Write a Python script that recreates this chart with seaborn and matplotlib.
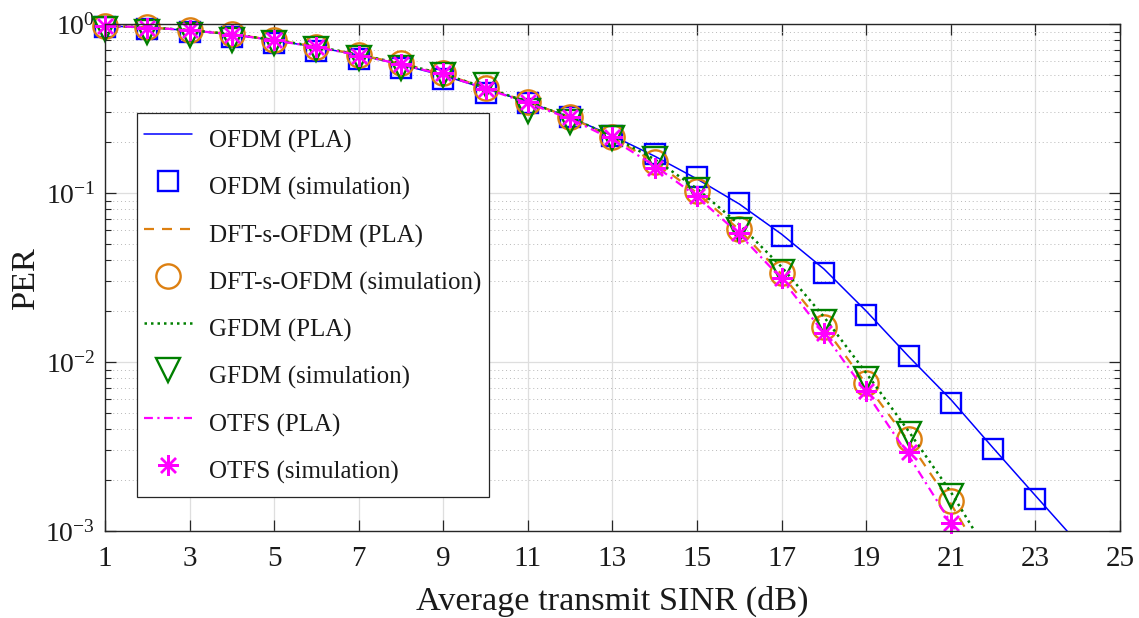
import numpy as np
import pandas as pd
import matplotlib
matplotlib.use("Agg")
import matplotlib.pyplot as plt
import seaborn as sns
from matplotlib.ticker import FixedLocator, LogLocator, NullFormatter, FuncFormatter

# ---------------- data ----------------
snr_pla_ofdm = list(range(1, 25))
ofdm_pla = [0.975, 0.952, 0.915, 0.865, 0.80, 0.73, 0.655, 0.575, 0.495, 0.415,
            0.345, 0.28, 0.218, 0.165, 0.121, 0.086, 0.057, 0.0355, 0.0200, 0.0108,
            0.0060, 0.0031, 0.00162, 0.00085]
snr_sim_ofdm = list(range(1, 24))
ofdm_sim = [0.956, 0.930, 0.893, 0.834, 0.769, 0.692, 0.618, 0.552, 0.471, 0.392,
            0.340, 0.280, 0.217, 0.169, 0.125, 0.0875, 0.0556, 0.0337, 0.0189, 0.0109,
            0.00575, 0.00305, 0.00154]

snr_pla = list(range(1, 23))
snr_sim = list(range(1, 22))
dft_pla = [0.975, 0.955, 0.92, 0.87, 0.805, 0.735, 0.658, 0.583, 0.505, 0.42,
           0.345, 0.28, 0.213, 0.152, 0.100, 0.0605, 0.033, 0.0162, 0.0074, 0.0034,
           0.00145, 0.00055]
dft_sim = [0.973, 0.956, 0.921, 0.869, 0.804, 0.734, 0.656, 0.585, 0.511, 0.416,
           0.347, 0.283, 0.215, 0.153, 0.1025, 0.0614, 0.0334, 0.0160, 0.00748, 0.00352,
           0.00151]
gfdm_pla = [0.975, 0.955, 0.92, 0.87, 0.805, 0.735, 0.658, 0.583, 0.505, 0.42,
            0.345, 0.28, 0.216, 0.158, 0.106, 0.065, 0.0365, 0.0185, 0.0086, 0.0039,
            0.0017, 0.00066]
gfdm_sim = [0.934, 0.901, 0.861, 0.804, 0.769, 0.708, 0.626, 0.547, 0.499, 0.435,
            0.304, 0.264, 0.212, 0.158, 0.104, 0.0606, 0.0339, 0.0172, 0.00797, 0.00374,
            0.00161]
otfs_pla = [0.975, 0.955, 0.918, 0.868, 0.80, 0.73, 0.653, 0.578, 0.50, 0.415,
            0.34, 0.275, 0.207, 0.145, 0.095, 0.057, 0.031, 0.0148, 0.0066, 0.0028,
            0.00112, 0.00042]
otfs_sim = [0.97, 0.95, 0.915, 0.865, 0.80, 0.73, 0.65, 0.58, 0.51, 0.415,
            0.345, 0.28, 0.215, 0.141, 0.0958, 0.0582, 0.0315, 0.0149, 0.00674, 0.00294,
            0.00112]

x_ticks = list(range(1, 26, 2))
y_ticks = [1e-3, 1e-2, 1e-1, 1]

# ---------------- style ----------------
sns.set_style("ticks")
plt.rcParams["font.family"] = ["Liberation Serif", "DejaVu Serif"]
plt.rcParams["mathtext.fontset"] = "custom"
plt.rcParams["mathtext.rm"] = "Liberation Serif"
plt.rcParams["mathtext.it"] = "Liberation Serif:italic"
plt.rcParams["mathtext.bf"] = "Liberation Serif:bold"

BLUE = "#0000FF"
ORANGE = "#DD8011"
GREEN = "#008000"
MAGENTA = "#FF00FF"

fig = plt.figure(figsize=(11.39, 6.18), dpi=100)
ax = fig.add_axes([0.0922, 0.1408, 0.8911, 0.8204])

series = [
    ("OFDM", BLUE, "-", 1.1, "s", 14, snr_pla_ofdm, ofdm_pla, snr_sim_ofdm, ofdm_sim),
    ("DFT-s-OFDM", ORANGE, (0, (4.5, 3.6)), 1.6, "o", 17.5, snr_pla, dft_pla, snr_sim, dft_sim),
    ("GFDM", GREEN, (0, (1, 1.6)), 1.8, "v", 17, snr_pla, gfdm_pla, snr_sim, gfdm_sim),
    ("OTFS", MAGENTA, (0, (4, 2, 1, 2)), 1.6, (8, 2, 0), 15, snr_pla, otfs_pla, snr_sim, otfs_sim),
]

handles, labels = [], []
for name, col, ls, lw, mk, ms, xp, yp, xs, ys in series:
    sns.lineplot(x=xp, y=yp, ax=ax, color=col, linestyle=ls, linewidth=lw, legend=False)
    handles.append(ax.lines[-1]); labels.append(f"{name} (PLA)")
    sns.lineplot(x=xs, y=ys, ax=ax, color=col, linestyle="", marker=mk, markersize=ms,
                 mfc="none", mec=col, mew=1.7, legend=False, clip_on=False)
    handles.append(ax.lines[-1]); labels.append(f"{name} (simulation)")

ax.set_yscale("log")
ax.set_xlim(1, 25)
ax.set_ylim(1e-3, 1)
ax.xaxis.set_major_locator(FixedLocator(x_ticks))
ax.yaxis.set_major_locator(FixedLocator(y_ticks))
ax.yaxis.set_minor_locator(LogLocator(base=10, subs=np.arange(2, 10)))
ax.yaxis.set_minor_formatter(NullFormatter())
ax.yaxis.set_major_formatter(FuncFormatter(lambda v, _: r"$10^{%d}$" % int(round(np.log10(v)))))

ax.tick_params(which="both", direction="in", top=True, right=True, color="0.15",
               labelcolor="0.1")
ax.tick_params(axis="x", which="major", labelsize=21, pad=11)
ax.tick_params(axis="y", which="major", labelsize=20, pad=7)
ax.tick_params(which="major", length=8, width=0.9)
ax.tick_params(which="minor", length=4, width=0.8)

ax.grid(True, which="major", color="0.87", linewidth=0.9, linestyle="-")
ax.grid(True, which="minor", axis="y", color="0.72", linewidth=0.7, linestyle=(0, (1, 3)))
ax.set_axisbelow(True)
for sp in ax.spines.values():
    sp.set_color("0.15")
    sp.set_linewidth(1.0)

ax.set_xlabel("Average transmit SINR (dB)", fontsize=24.7, color="0.1", labelpad=10)
ax.set_ylabel("PER", fontsize=24.7, color="0.1", labelpad=3)

leg = ax.legend(handles, labels, loc="upper left", bbox_to_anchor=(0.0315, 0.8245),
                borderaxespad=0, fontsize=18, frameon=True, fancybox=False,
                edgecolor="0.15", framealpha=1, handlelength=1.9, handletextpad=0.7,
                handleheight=2.0, labelspacing=0.345, borderpad=0.3, numpoints=1)
leg.get_frame().set_linewidth(0.9)
for t in leg.get_texts():
    t.set_color("0.1")

fig.savefig("out.png", dpi=100)
